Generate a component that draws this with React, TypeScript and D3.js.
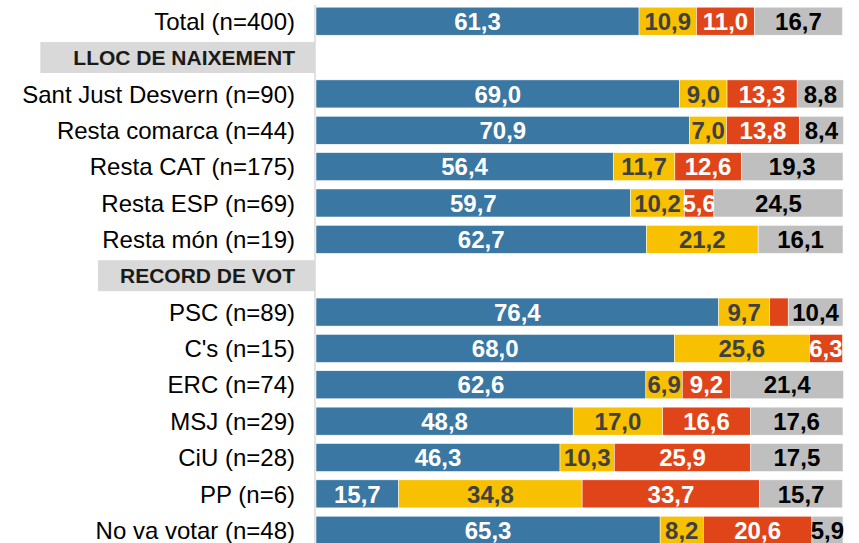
import { useEffect, useRef } from 'react';
import * as d3 from 'd3';

const rows = [
  'Total (n=400)',
  'LLOC DE NAIXEMENT',
  'Sant Just Desvern (n=90)',
  'Resta comarca (n=44)',
  'Resta CAT (n=175)',
  'Resta ESP (n=69)',
  'Resta món (n=19)',
  'RECORD DE VOT',
  'PSC (n=89)',
  "C's (n=15)",
  'ERC (n=74)',
  'MSJ (n=29)',
  'CiU (n=28)',
  'PP (n=6)',
  'No va votar (n=48)'
];
const headers = ['LLOC DE NAIXEMENT', 'RECORD DE VOT'];

const seriesKeys = ['s1', 's2', 's3', 's4'];
const s1 = [61.3, null, 69.0, 70.9, 56.4, 59.7, 62.7, null, 76.4, 68.0, 62.6, 48.8, 46.3, 15.7, 65.3];
const s2 = [10.9, null, 9.0, 7.0, 11.7, 10.2, 21.2, null, 9.7, 25.6, 6.9, 17.0, 10.3, 34.8, 8.2];
const s3 = [11.0, null, 13.3, 13.8, 12.6, 5.6, 0, null, 3.5, 6.3, 9.2, 16.6, 25.9, 33.7, 20.6];
const s4 = [16.7, null, 8.8, 8.4, 19.3, 24.5, 16.1, null, 10.4, 0, 21.4, 17.6, 17.5, 15.7, 5.9];

const colors = ['#3A77A3', '#F7C000', '#E04419', '#BFBFBF'];
const textColors = ['#ffffff', '#404040', '#ffffff', '#000000'];

export default function App() {
  const ref = useRef<SVGSVGElement | null>(null);

  useEffect(() => {
    if (!ref.current) return;
    const svg = d3.select(ref.current);
    svg.selectAll('*').remove();

    const height = 543;
    const x = d3.scaleLinear().domain([0, 100]).range([316, 843]);
    const y = d3
      .scaleBand()
      .domain(rows)
      .range([3, 548.4])
      .paddingInner(0.23)
      .paddingOuter(0.115);
    const labelX = 295;
    const font = "'Liberation Sans', Arial, sans-serif";

    const data = rows.map((r, i) => ({ row: r, s1: s1[i], s2: s2[i], s3: s3[i], s4: s4[i] }));
    const bars = data.filter((d) => d.s1 !== null);
    const stack = d3.stack<any>().keys(seriesKeys).value((d, k) => d[k] ?? 0);
    const series = stack(bars);

    // section headers with grey box
    headers.forEach((h) => {
      const cy = (y(h) || 0) + y.bandwidth() / 2;
      const t = svg
        .append('text')
        .attr('x', labelX)
        .attr('y', cy)
        .attr('dy', '0.36em')
        .attr('text-anchor', 'end')
        .attr('font-family', font)
        .attr('font-weight', 'bold')
        .attr('font-size', 21)
        .attr('fill', '#1a1a1a')
        .text(h);
      const w = (t.node() as SVGTextElement).getComputedTextLength();
      const pad = h === headers[0] ? 33 : 22;
      svg
        .insert('rect', 'text')
        .attr('x', labelX - w - pad)
        .attr('y', cy - 15.5)
        .attr('width', 315 - (labelX - w - pad))
        .attr('height', 31)
        .attr('fill', '#D9D9D9');
    });

    svg
      .append('line')
      .attr('x1', 315)
      .attr('x2', 315)
      .attr('y1', 5)
      .attr('y2', height)
      .attr('stroke', '#D9D9D9')
      .attr('stroke-width', 1.5);

    bars.forEach((d) => {
      svg
        .append('text')
        .attr('x', labelX)
        .attr('y', (y(d.row) || 0) + y.bandwidth() / 2)
        .attr('dy', '0.36em')
        .attr('text-anchor', 'end')
        .attr('font-family', font)
        .attr('font-size', 24)
        .attr('fill', '#000')
        .text(d.row);
    });

    series.forEach((s, si) => {
      const g = svg.append('g');
      g.selectAll('rect')
        .data(s)
        .join('rect')
        .attr('x', (d) => x(d[0]))
        .attr('y', (d) => y(d.data.row) || 0)
        .attr('width', (d) => x(d[1]) - x(d[0]))
        .attr('height', y.bandwidth())
        .attr('fill', colors[si])
        .attr('stroke', '#ffffff')
        .attr('stroke-width', 0.5);
      g.selectAll('text')
        .data(s.filter((d) => d[1] - d[0] >= 4))
        .join('text')
        .attr('x', (d) => (x(d[0]) + x(d[1])) / 2)
        .attr('y', (d) => (y(d.data.row) || 0) + y.bandwidth() / 2)
        .attr('dy', '0.36em')
        .attr('text-anchor', 'middle')
        .attr('font-family', font)
        .attr('font-weight', 'bold')
        .attr('font-size', 24)
        .attr('fill', textColors[si])
        .text((d) => (d[1] - d[0]).toFixed(1).replace('.', ','));
    });
  }, []);

  return (
    <svg
      ref={ref}
      width={859}
      height={543}
      style={{ position: 'absolute', left: 0, top: 0, background: '#fff' }}
    />
  );
}
